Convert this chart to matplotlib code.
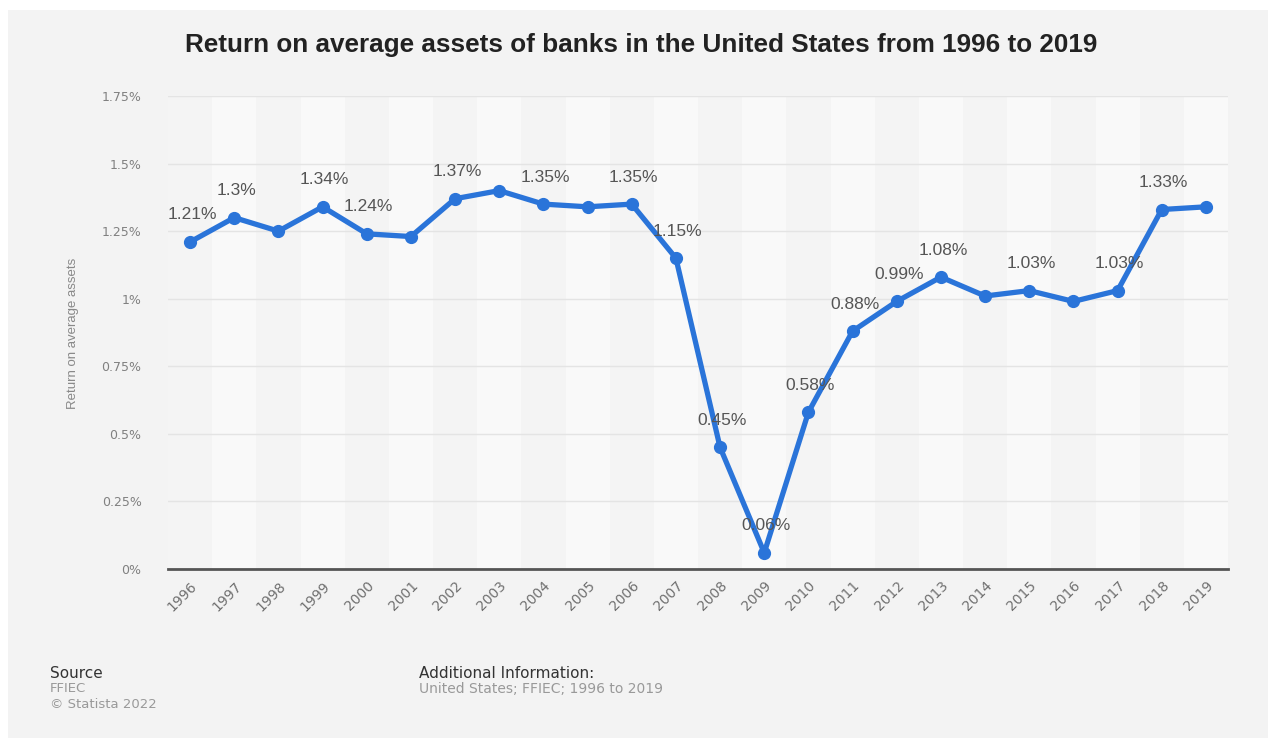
import matplotlib.pyplot as plt
from matplotlib.patches import Rectangle

# data
years = ['1996', '1997', '1998', '1999', '2000', '2001', '2002', '2003', '2004', '2005', '2006', '2007',
         '2008', '2009', '2010', '2011', '2012', '2013', '2014', '2015', '2016', '2017', '2018', '2019']
roa = [1.21, 1.30, 1.25, 1.34, 1.24, 1.23, 1.37, 1.40, 1.35, 1.34, 1.35, 1.15,
       0.45, 0.06, 0.58, 0.88, 0.99, 1.08, 1.01, 1.03, 0.99, 1.03, 1.33, 1.34]
# which points carry a value label in the original
labelled = ['1996', '1997', '1999', '2000', '2002', '2004', '2006', '2007', '2008', '2009',
            '2010', '2011', '2012', '2013', '2015', '2017', '2018']
y_ticks = [0, 0.25, 0.5, 0.75, 1.0, 1.25, 1.5, 1.75]
y_tick_labels = ['0%', '0.25%', '0.5%', '0.75%', '1%', '1.25%', '1.5%', '1.75%']

plt.rcParams['font.family'] = ['Liberation Sans', 'DejaVu Sans']
wide = ['DejaVu Sans']  # the original's small text is rather wide

fig = plt.figure(figsize=(12.78, 7.42), dpi=100)
fig.patch.set_facecolor('white')
# grey card behind everything
fig.patches.append(Rectangle((8 / 1278, 4 / 742), 1260 / 1278, 728 / 742, transform=fig.transFigure,
                             facecolor='#f3f3f3', edgecolor='none', zorder=-5))

ax = fig.add_axes([168 / 1278, 1 - 569 / 742, 1060 / 1278, (569 - 96) / 742])
ax.set_facecolor('#f4f4f4')

x = list(range(len(years)))
for i in x:
    if i % 2 == 1:
        ax.axvspan(i - 0.5, i + 0.5, color='#f9f9f9', zorder=0, lw=0)

ax.plot(x, roa, color='#2a74d9', lw=3.8, marker='o', ms=8.5, zorder=3, solid_joinstyle='round')

for xi, yr, v in zip(x, years, roa):
    if yr in labelled:
        txt = f'{v:.2f}'.rstrip('0').rstrip('.') + '%'
        ax.annotate(txt, (xi, v), xytext=(2, 27), textcoords='offset pixels', ha='center', va='center',
                    fontsize=12.5, color='#555555', zorder=4)

ax.set_xlim(-0.5, len(years) - 0.5)
ax.set_ylim(0, 1.75)
ax.set_yticks(y_ticks)
ax.set_yticklabels(y_tick_labels, family=wide, fontsize=9, color='#808080')
ax.set_xticks(x)
ax.set_xticklabels(years, rotation=45, ha='right', va='top', rotation_mode='anchor',
                   family=wide, fontsize=10, color='#707070')
ax.tick_params(axis='both', length=0)
ax.tick_params(axis='y', pad=19)
ax.tick_params(axis='x', pad=7)
ax.grid(axis='y', color='#e4e4e4', lw=1, zorder=1)
ax.set_axisbelow(True)
for s in ['top', 'right', 'left']:
    ax.spines[s].set_visible(False)
ax.spines['bottom'].set_color('#555555')
ax.spines['bottom'].set_linewidth(2)

fig.text(73 / 1278, 1 - 333 / 742, 'Return on average assets', rotation=90, ha='center', va='center',
         fontsize=9.5, color='#888888')

fig.text(641 / 1278, 1 - 45 / 742, 'Return on average assets of banks in the United States from 1996 to 2019',
         ha='center', va='center', fontsize=18.8, fontweight='bold', color='#222222')

fig.text(50 / 1278, 1 - 674 / 742, 'Source', family=wide, fontsize=11, color='#333333', va='center')
fig.text(50 / 1278, 1 - 689 / 742, 'FFIEC', family=wide, fontsize=9.5, color='#999999', va='center')
fig.text(50 / 1278, 1 - 705 / 742, '\u00a9 Statista 2022', family=wide, fontsize=9.5, color='#999999',
         va='center')
fig.text(419 / 1278, 1 - 674 / 742, 'Additional Information:', family=wide, fontsize=11, color='#333333',
         va='center')
fig.text(419 / 1278, 1 - 689 / 742, 'United States; FFIEC; 1996 to 2019', family=wide, fontsize=10,
         color='#999999', va='center')

fig.savefig('out.png', dpi=100)
